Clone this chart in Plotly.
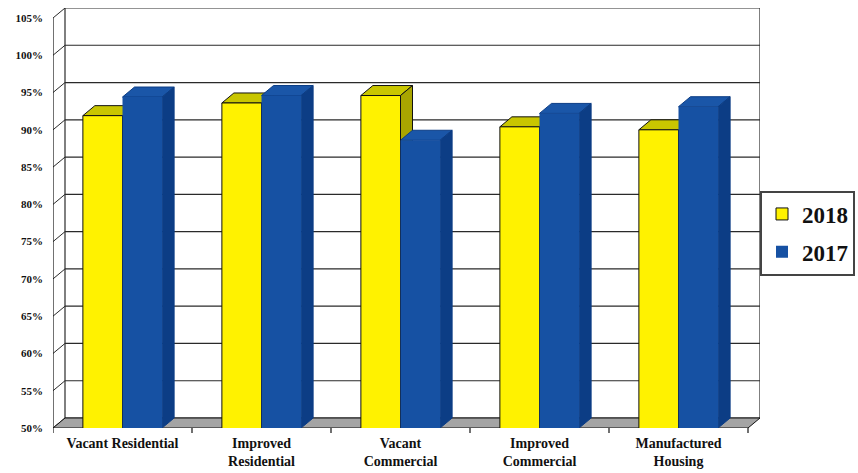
import plotly.graph_objects as go

# ---- data ----
categories = ["Vacant Residential", "Improved<br>Residential", "Vacant<br>Commercial",
              "Improved<br>Commercial", "Manufactured<br>Housing"]
v2018 = [91.9, 93.6, 94.6, 90.4, 90.0]
v2017 = [94.4, 94.6, 88.6, 92.2, 93.1]
tick_vals = [50, 55, 60, 65, 70, 75, 80, 85, 90, 95, 100, 105]
tick_text = ["50%", "55%", "60%", "65%", "70%", "75%", "80%", "85%", "90%", "95%", "100%", "105%"]

# ---- styling / geometry ----
W, H = 858, 473
L, B = 53, 45
CAT_PX = 139.0
PX_PER_PCT = 410.0 / 55.0
DX_PX, DY_PX = 12.0, 10.0
ddx = DX_PX / CAT_PX
ddy = DY_PX / PX_PER_PCT
ymin, ymax = 50, 105
n = len(categories)
bw = 0.285

xr = [-0.5, n - 0.5 + ddx]
yr = [ymin, ymax + ddy]
plot_w = CAT_PX * n + DX_PX
plot_h = PX_PER_PCT * (ymax - ymin) + DY_PX
R = W - L - plot_w
T = H - B - plot_h

YEL, YEL_TOP, YEL_SIDE = "#FFF200", "#C9C600", "#A9A500"
BLU, BLU_TOP, BLU_SIDE = "#1651A3", "#1A56A8", "#0C3D85"
GRID = "#2a2a2a"

fig = go.Figure()
fig.add_trace(go.Bar(name="2018", x=list(range(n)), y=v2018, offset=-bw, width=bw,
                     marker=dict(color=YEL, line=dict(color="#111", width=1)),
                     legendgroup="a"))
fig.add_trace(go.Bar(name="2017", x=list(range(n)), y=v2017, offset=0, width=bw,
                     marker=dict(color=BLU, line=dict(color=BLU, width=0)),
                     legendgroup="b"))

shapes = []
def line(x0, y0, x1, y1, color=GRID, w=1.2):
    shapes.append(dict(type="line", xref="x", yref="y", x0=x0, y0=y0, x1=x1, y1=y1,
                       line=dict(color=color, width=w), layer="below"))
def poly(pts, fill, lc="#111", lw=1):
    d = "M " + " L ".join(f"{x},{y}" for x, y in pts) + " Z"
    shapes.append(dict(type="path", xref="x", yref="y", path=d, fillcolor=fill,
                       line=dict(color=lc, width=lw), layer="below"))

x_left, x_right = -0.5, n - 0.5
# back wall gridlines + left wall diagonals
for v in tick_vals:
    line(x_left + ddx, v + ddy, x_right + ddx, v + ddy)
    line(x_left - 0.025, v - 0.025 * ddy / ddx, x_left + ddx, v + ddy, w=1)
# back wall edges
line(x_left + ddx, ymin + ddy, x_left + ddx, ymax + ddy)
line(x_right + ddx, ymin + ddy, x_right + ddx, ymax + ddy)
# front axis line
line(x_left, ymin, x_left, ymax, color="#111", w=1.2)
# floor
poly([(x_left, ymin), (x_right, ymin), (x_right + ddx, ymin + ddy), (x_left + ddx, ymin + ddy)],
     "#A4A4A4")

# 3D faces of bars
def faces(x0, x1, v, top, side, lc):
    poly([(x0, v), (x0 + ddx, v + ddy), (x1 + ddx, v + ddy), (x1, v)], top, lc, 1)
    poly([(x1, v), (x1 + ddx, v + ddy), (x1 + ddx, ymin + ddy), (x1, ymin)], side, lc, 1)

for i, v in enumerate(v2018):
    faces(i - bw, i, v, YEL_TOP, YEL_SIDE, "#111")
for i, v in enumerate(v2017):
    faces(i, i + bw, v, BLU_TOP, BLU_SIDE, BLU_SIDE)

# category boundary tick marks
for k in range(n + 1):
    shapes.append(dict(type="line", xref="x", yref="paper", x0=k - 0.5, x1=k - 0.5,
                       y0=0, y1=-5.0 / plot_h, line=dict(color="#111", width=1.2)))

serif = "Liberation Serif, Times New Roman, serif"
fig.update_layout(
    width=W, height=H,
    margin=dict(l=L, r=R, t=T, b=B, pad=0, autoexpand=False),
    paper_bgcolor="white", plot_bgcolor="white",
    barmode="overlay",
    shapes=shapes,
    showlegend=True,
    legend=dict(x=(760 - L) / plot_w, y=(H - B - 233) / plot_h, xanchor="left", yanchor="middle",
                font=dict(family=serif, size=23, color="#111", weight="bold"),
                bordercolor="#444", borderwidth=2, bgcolor="white",
                tracegroupgap=5),
    xaxis=dict(range=xr, tickmode="array", tickvals=list(range(n)), ticktext=categories,
               showgrid=False, zeroline=False, showline=False,
               ticks="", ticklabelstandoff=5,
               tickfont=dict(family=serif, size=14, color="#111", weight="bold")),
    yaxis=dict(range=yr, tickmode="array", tickvals=tick_vals, ticktext=tick_text,
               showgrid=False, zeroline=False, showline=False, ticks="",
               ticklabelstandoff=9,
               tickfont=dict(family=serif, size=11, color="#111", weight="bold")),
)

fig.write_html("out.html")
